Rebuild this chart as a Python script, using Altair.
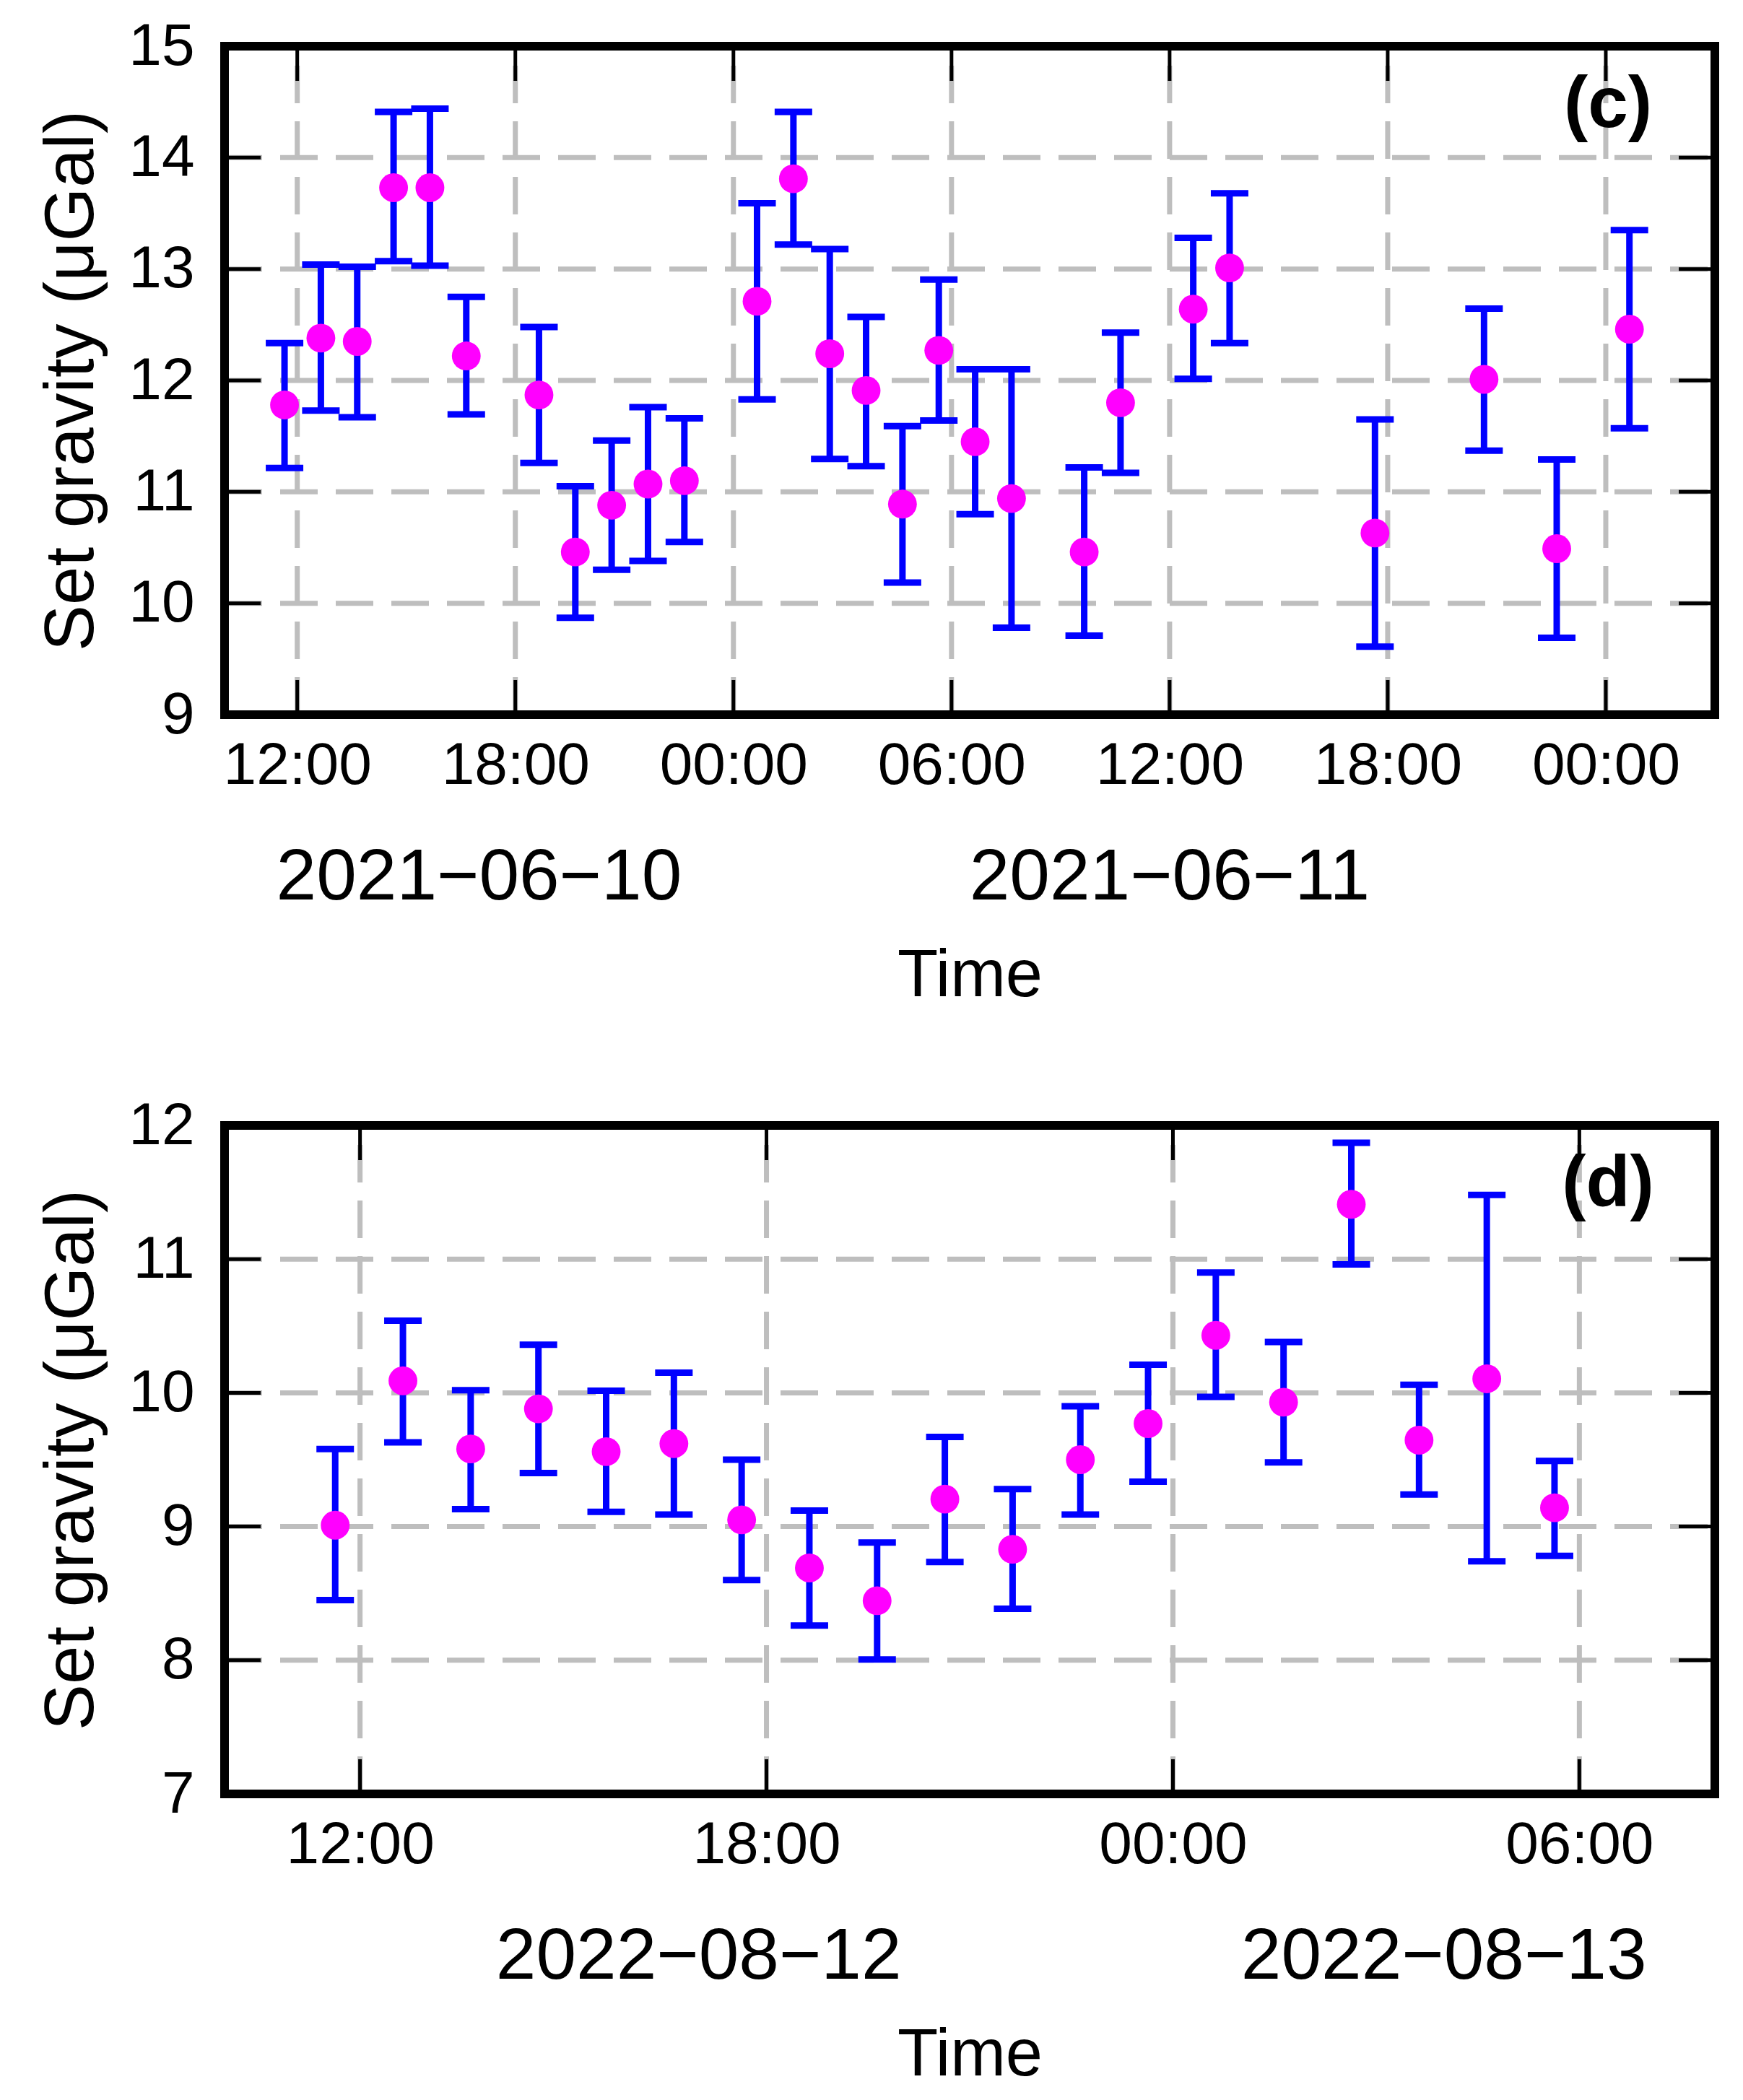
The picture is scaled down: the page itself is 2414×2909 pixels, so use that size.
import altair as alt
import pandas as pd
from datetime import datetime

FONT = "Liberation Sans"
W, H = 2064, 926

# ---------------- Panel (c) data ----------------
C_TIME = ["2021-06-10T11:39", "2021-06-10T12:39", "2021-06-10T13:39", "2021-06-10T14:39",
          "2021-06-10T15:39", "2021-06-10T16:39", "2021-06-10T18:39", "2021-06-10T19:39",
          "2021-06-10T20:39", "2021-06-10T21:39", "2021-06-10T22:39", "2021-06-11T00:39",
          "2021-06-11T01:39", "2021-06-11T02:39", "2021-06-11T03:39", "2021-06-11T04:39",
          "2021-06-11T05:39", "2021-06-11T06:39", "2021-06-11T07:39", "2021-06-11T09:39",
          "2021-06-11T10:39", "2021-06-11T12:39", "2021-06-11T13:39", "2021-06-11T17:39",
          "2021-06-11T20:39", "2021-06-11T22:39", "2021-06-12T00:39"]
C_VAL = [11.78, 12.38, 12.35, 13.73, 13.73, 12.22, 11.87, 10.46, 10.88, 11.07, 11.10,
         12.71, 13.81, 12.24, 11.91, 10.89, 12.27, 11.45, 10.94, 10.46, 11.80, 12.64,
         13.01, 10.63, 12.01, 10.49, 12.46]
C_LO = [11.215, 11.73, 11.67, 13.07, 13.03, 11.695, 11.26, 9.87, 10.30, 10.38, 10.55,
        11.83, 13.22, 11.295, 11.23, 10.185, 11.64, 10.80, 9.78, 9.71, 11.17, 12.015,
        12.335, 9.61, 11.37, 9.69, 11.57]
C_HI = [12.335, 13.04, 13.02, 14.41, 14.44, 12.75, 12.48, 11.05, 11.46, 11.76, 11.66,
        13.59, 14.41, 13.18, 12.57, 11.59, 12.905, 12.10, 12.10, 11.22, 12.43, 13.28,
        13.68, 11.65, 12.645, 11.29, 13.35]
C_XDOMAIN = ["2021-06-10T10:00", "2021-06-12T03:00"]
C_XTICKS = ["2021-06-10T12:00", "2021-06-10T18:00", "2021-06-11T00:00", "2021-06-11T06:00",
            "2021-06-11T12:00", "2021-06-11T18:00", "2021-06-12T00:00"]
C_YDOMAIN = [9, 15]
C_YTICKS = [9, 10, 11, 12, 13, 14, 15]
C_DATES = ["2021\u221206\u221210", "2021\u221206\u221211"]
C_DATE_POS = ["2021-06-10T17:00", "2021-06-11T12:00"]
C_LABEL = "(c)"

# ---------------- Panel (d) data ----------------
D_TIME = ["2022-08-12T11:38", "2022-08-12T12:38", "2022-08-12T13:38", "2022-08-12T14:38",
          "2022-08-12T15:38", "2022-08-12T16:38", "2022-08-12T17:38", "2022-08-12T18:38",
          "2022-08-12T19:38", "2022-08-12T20:38", "2022-08-12T21:38", "2022-08-12T22:38",
          "2022-08-12T23:38", "2022-08-13T00:38", "2022-08-13T01:38", "2022-08-13T02:38",
          "2022-08-13T03:38", "2022-08-13T04:38", "2022-08-13T05:38"]
D_VAL = [9.01, 10.09, 9.58, 9.88, 9.56, 9.62, 9.05, 8.69, 8.445, 9.205, 8.83, 9.50,
         9.77, 10.43, 9.93, 11.41, 9.646, 10.105, 9.14]
D_LO = [8.45, 9.63, 9.13, 9.40, 9.11, 9.09, 8.60, 8.26, 8.005, 8.735, 8.385, 9.09,
        9.335, 9.97, 9.48, 10.96, 9.24, 8.74, 8.78]
D_HI = [9.58, 10.54, 10.02, 10.36, 10.015, 10.15, 9.50, 9.12, 8.88, 9.67, 9.28, 9.90,
        10.21, 10.90, 10.38, 11.87, 10.06, 11.48, 9.49]
D_XDOMAIN = ["2022-08-12T10:00", "2022-08-13T08:00"]
D_XTICKS = ["2022-08-12T12:00", "2022-08-12T18:00", "2022-08-13T00:00", "2022-08-13T06:00"]
D_YDOMAIN = [7, 12]
D_YTICKS = [7, 8, 9, 10, 11, 12]
D_DATES = ["2022\u221208\u221212", "2022\u221208\u221213"]
D_DATE_POS = ["2022-08-12T17:00", "2022-08-13T04:00"]
D_LABEL = "(d)"


def dt(s):
    d = datetime.fromisoformat(s)
    return alt.DateTime(year=d.year, month=d.month, date=d.day, hours=d.hour, minutes=d.minute)


def panel(times, vals, los, his, xdom, xticks, ydom, yticks, dates, date_pos, label):
    df = pd.DataFrame({"t": times, "v": vals, "lo": los, "hi": his})
    xs = alt.Scale(domain=[dt(s) for s in xdom], nice=False)
    ys = alt.Scale(domain=ydom, nice=False, zero=False)
    common = dict(grid=False, ticks=False, tickSize=0, domain=False, labelFont=FONT,
                  labelFontSize=82, labelColor="black", labelOverlap=False,
                  labelBound=False, labelLimit=1000, titleFont=FONT,
                  titleFontWeight="normal", titleColor="black", titleBaseline="alphabetic")
    xaxis = alt.Axis(values=[dt(s) for s in xticks], format="%H:%M",
                     labelBaseline="alphabetic", labelPadding=95, labelFlush=False,
                     title="Time", titleFontSize=92, titleX=W / 2, titleY=389,
                     titleAlign="center", **common)
    yaxis = alt.Axis(values=yticks, format="d", labelPadding=42,
                     title="Set gravity (\u03bcGal)", titleFontSize=96, titleAngle=270,
                     titleX=-183, titleY=H / 2, titleAlign="center", **common)
    X = alt.X("t:T", scale=xs, axis=xaxis)

    def Y(f):
        return alt.Y(f + ":Q", scale=ys, axis=yaxis)

    # dashed grid (inner tick positions only)
    ygrid = pd.DataFrame({"v": [v for v in yticks if ydom[0] < v < ydom[1]]})
    xgrid = pd.DataFrame({"t": xticks})
    gstyle = dict(color="#bebebe", strokeWidth=7, strokeDash=[52, 25])
    hgrid = alt.Chart(ygrid).mark_rule(**gstyle).encode(
        y=Y("v"), x=alt.value(0), x2=alt.value(W))
    vgrid = alt.Chart(xgrid).mark_rule(**gstyle).encode(
        x=X, y=alt.value(H), y2=alt.value(0))

    base = alt.Chart(df)
    blue = "#0000ff"
    bars = base.mark_rule(color=blue, strokeWidth=9).encode(x=X, y=Y("lo"), y2="hi:Q")
    cap_lo = base.mark_rule(color=blue, strokeWidth=9, xOffset=-26, x2Offset=26).encode(
        x=X, x2="t:T", y=Y("lo"))
    cap_hi = base.mark_rule(color=blue, strokeWidth=9, xOffset=-26, x2Offset=26).encode(
        x=X, x2="t:T", y=Y("hi"))
    pts = base.mark_circle(size=1590, color="#ff00ff", opacity=1).encode(x=X, y=Y("v"))

    ytdf = pd.DataFrame({"v": yticks})
    xtdf = pd.DataFrame({"t": xticks})
    tick = dict(color="black", strokeWidth=5)
    tl = alt.Chart(ytdf).mark_rule(**tick).encode(y=Y("v"), x=alt.value(0), x2=alt.value(50))
    tr = alt.Chart(ytdf).mark_rule(**tick).encode(y=Y("v"), x=alt.value(W - 50), x2=alt.value(W))
    tt = alt.Chart(xtdf).mark_rule(**tick).encode(x=X, y=alt.value(0), y2=alt.value(48))
    tb = alt.Chart(xtdf).mark_rule(**tick).encode(x=X, y=alt.value(H - 48), y2=alt.value(H))

    ddf = pd.DataFrame({"t": date_pos, "label": dates})
    dl = alt.Chart(ddf).mark_text(font=FONT, fontSize=100, color="black",
                                  baseline="alphabetic", align="center").encode(
        x=X, y=alt.value(H + 256), text="label:N")
    lab = pd.DataFrame({"label": [label]})
    pl = alt.Chart(lab).mark_text(
        font=FONT, fontSize=100, fontWeight="bold", color="black",
        baseline="alphabetic", align="center").encode(
        x=alt.value(W - 148), y=alt.value(112), text="label:N")
    frame = alt.Chart(lab).mark_rect(fill=None, fillOpacity=0, stroke="black",
                                     strokeWidth=12).encode(
        x=alt.value(0), x2=alt.value(W), y=alt.value(0), y2=alt.value(H))

    return alt.layer(hgrid, vgrid, tl, tr, tt, tb, bars, cap_lo, cap_hi, pts, dl, pl,
                     frame).properties(width=W, height=H)


top = panel(C_TIME, C_VAL, C_LO, C_HI, C_XDOMAIN, C_XTICKS, C_YDOMAIN, C_YTICKS,
            C_DATES, C_DATE_POS, C_LABEL)
bot = panel(D_TIME, D_VAL, D_LO, D_HI, D_XDOMAIN, D_XTICKS, D_YDOMAIN, D_YTICKS,
            D_DATES, D_DATE_POS, D_LABEL)

chart = alt.vconcat(top, bot, spacing=121).properties(
    padding={"left": 42, "top": 15, "right": 10, "bottom": 5},
    background="white",
).configure_view(strokeWidth=0)

chart.save("out.html", embed_options={"renderer": "svg", "actions": False})
